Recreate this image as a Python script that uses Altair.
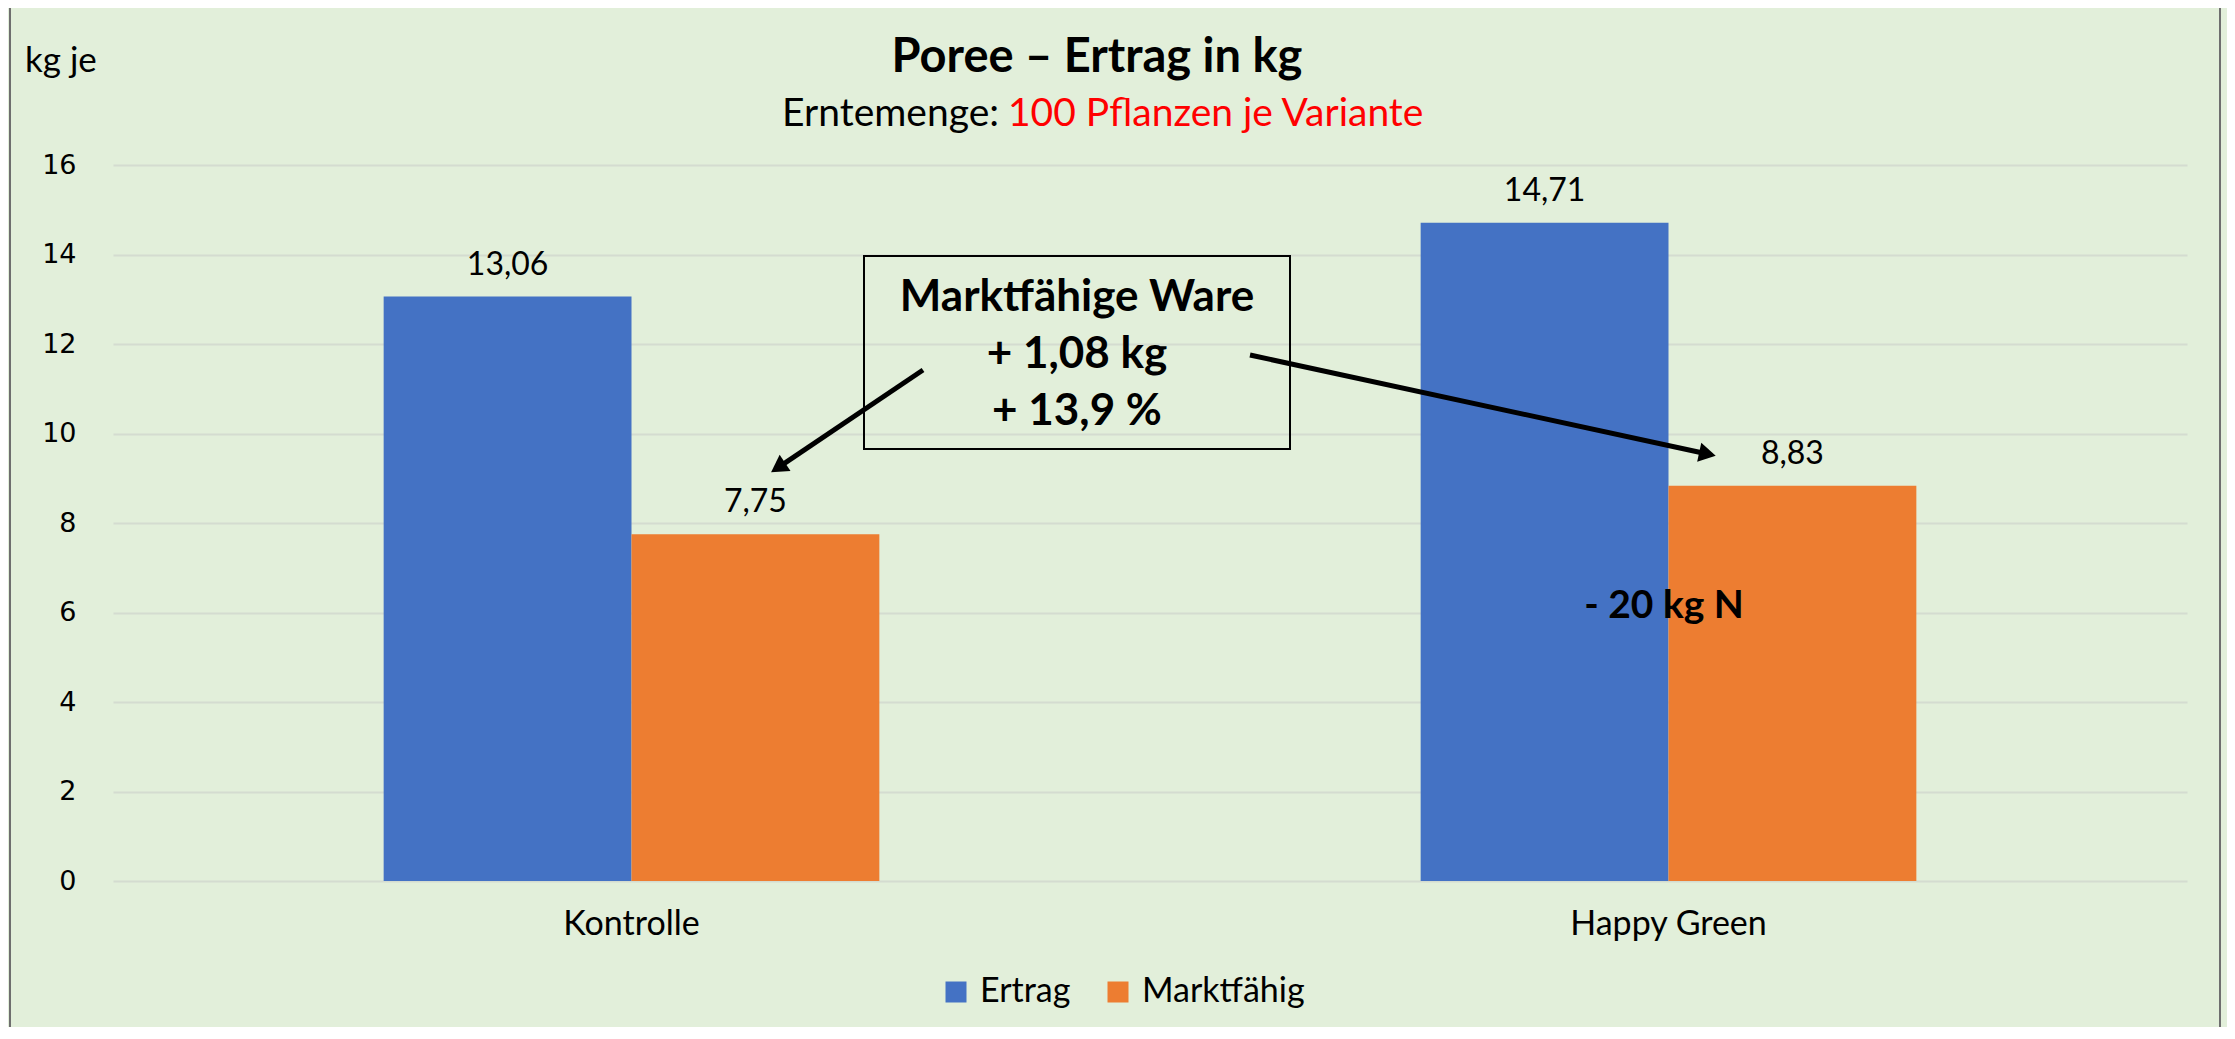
import math
import altair as alt
import pandas as pd

# ---- data ----
categories = ["Kontrolle", "Happy Green"]
series = ["Ertrag", "Marktfähig"]
ertrag = [13.06, 14.71]
marktfaehig = [7.75, 8.83]
y_ticks = [0, 2, 4, 6, 8, 10, 12, 14, 16]

rows = []
for cat, e, m in zip(categories, ertrag, marktfaehig):
    for s, v in zip(series, [e, m]):
        rows.append({"Variante": cat, "Serie": s, "Wert": v,
                     "Label": f"{v:.2f}".replace(".", ",")})
df = pd.DataFrame(rows)

BG = "#E2EFDA"
BLUE = "#4472C4"
ORANGE = "#ED7D31"
FONT = "Lato"
W, H = 2074, 716

x_enc = alt.X("Variante:N", sort=categories,
              scale=alt.Scale(paddingInner=0.522, paddingOuter=0.261),
              axis=alt.Axis(title=None, labelAngle=0, ticks=False, domain=False,
                            labelFontSize=34, labelFont=FONT, labelColor="#000000",
                            labelPadding=26, grid=False, labelLimit=0))
xo_enc = alt.XOffset("Serie:N", sort=series,
                     scale=alt.Scale(paddingInner=0, paddingOuter=0))
y_enc = alt.Y("Wert:Q", scale=alt.Scale(domain=[0, 16], nice=False),
              axis=alt.Axis(title=None, values=y_ticks, ticks=False, domain=False,
                            labelFontSize=27, labelFont="DejaVu Sans", labelColor="#000000",
                            labelPadding=37, gridColor="#D4DCD0", gridWidth=2))

bars = alt.Chart(df).mark_bar().encode(
    x=x_enc, xOffset=xo_enc, y=y_enc,
    color=alt.Color("Serie:N", sort=series,
                    scale=alt.Scale(domain=series, range=[BLUE, ORANGE]),
                    legend=alt.Legend(title=None, orient="none", direction="horizontal",
                                      legendX=826, legendY=810, symbolType="square",
                                      symbolSize=441, symbolStrokeWidth=0,
                                      labelFontSize=34, labelFont=FONT, labelColor="#000000",
                                      labelOffset=7, columnPadding=30, labelLimit=0)),
)
labels = alt.Chart(df).mark_text(dy=-32, baseline="middle", fontSize=32, font=FONT,
                                 color="#000000").encode(
    x=alt.X("Variante:N", sort=categories), xOffset=alt.XOffset("Serie:N", sort=series),
    y="Wert:Q", text="Label:N")

one = pd.DataFrame({"k": [0]})
base = alt.Chart(one)

border = base.mark_rect(fill=None, stroke="#6E6E6E", strokeWidth=2).encode(
    x=alt.value(-103), x2=alt.value(2107), y=alt.value(-158), y2=alt.value(900))

def txt(s, x, y, size, bold=False, color="#000000", align="center"):
    return base.mark_text(text=s, fontSize=size, font=FONT,
                          fontWeight="bold" if bold else "normal",
                          color=color, align=align, baseline="middle").encode(
        x=alt.value(x), y=alt.value(y))

title = txt("Poree – Ertrag in kg", 984, -107, 47, bold=True)
sub1 = txt("Erntemenge:", 886, -51, 39, align="right")
sub2 = txt("100 Pflanzen je Variante", 895, -51, 39, color="#FF0000", align="left")
ytitle = txt("kg je", -88, -104, 35, align="left")

box = base.mark_rect(fill=None, stroke="#000000", strokeWidth=2).encode(
    x=alt.value(751), x2=alt.value(1177), y=alt.value(91), y2=alt.value(284))
b1 = txt("Marktfähige Ware", 964, 133, 44, bold=True)
b2 = txt("+ 1,08 kg", 964, 190, 44, bold=True)
b3 = txt("+ 13,9 %", 964, 247, 44, bold=True)
n20 = txt("- 20 kg N", 1551, 441, 39, bold=True)

def arrow(x0, y0, x1, y1, size=380):
    dx, dy = x1 - x0, y1 - y0
    L = math.hypot(dx, dy)
    r = math.sqrt(size) / 2
    cx, cy = x1 - r * dx / L, y1 - r * dy / L
    ang = math.degrees(math.atan2(dy, dx)) % 360
    line = base.mark_rule(strokeWidth=5, color="#000000").encode(
        x=alt.value(x0), y=alt.value(y0), x2=alt.value(cx), y2=alt.value(cy))
    head = base.mark_point(shape="triangle-right", filled=True, size=size, angle=ang,
                           color="#000000", opacity=1, strokeWidth=0).encode(
        x=alt.value(cx), y=alt.value(cy))
    return line + head

a1 = arrow(810, 205, 657, 308)
a2 = arrow(1137, 190, 1604, 291)

chart = alt.layer(border, bars, labels, title, sub1, sub2, ytitle, box, b1, b2, b3,
                  n20, a1, a2).properties(
    width=W, height=H,
    autosize=alt.AutoSizeParams(type="none"),
    padding={"left": 105, "top": 157, "right": 40, "bottom": 146},
    background=BG,
).configure_view(stroke=None)

chart.save("out.html", embed_options={"renderer": "svg", "actions": False})
